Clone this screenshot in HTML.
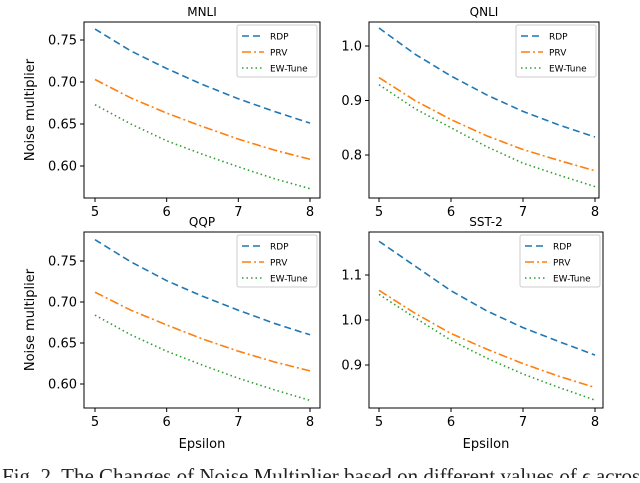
<!DOCTYPE html>
<html><head><meta charset="utf-8"><style>
body{margin:0;background:#fff;width:640px;height:478px;overflow:hidden}
svg text{font-family:"DejaVu Sans","Liberation Sans",sans-serif}
</style></head><body>
<svg id="fig" width="640" height="478" xmlns="http://www.w3.org/2000/svg">
<text x="2" y="483" style="font-family:'Liberation Serif',serif" font-size="21" fill="#222">Fig. 2.  The Changes of Noise Multiplier based on different values of ϵ across</text>
</svg>
<script>
const epsilons = [5, 5.5, 6, 6.5, 7, 7.5, 8];
const xTicks = [5, 6, 7, 8];
const mnliRDP = [0.763,0.737,0.716,0.697,0.680,0.665,0.651];
const mnliPRV = [0.703,0.681,0.663,0.647,0.632,0.619,0.608];
const mnliEW  = [0.673,0.650,0.630,0.614,0.599,0.585,0.573];
const qnliRDP = [1.033,0.985,0.945,0.91,0.88,0.855,0.833];
const qnliPRV = [0.942,0.90,0.865,0.835,0.81,0.79,0.771];
const qnliEW  = [0.929,0.885,0.85,0.815,0.785,0.763,0.742];
const qqpRDP = [0.776,0.749,0.726,0.707,0.690,0.674,0.660];
const qqpPRV = [0.712,0.690,0.672,0.655,0.640,0.627,0.616];
const qqpEW  = [0.684,0.660,0.640,0.623,0.607,0.593,0.580];
const sstRDP = [1.175,1.12,1.065,1.02,0.983,0.952,0.922];
const sstPRV = [1.066,1.015,0.97,0.935,0.903,0.875,0.85];
const sstEW  = [1.057,1.005,0.955,0.915,0.88,0.85,0.822];
const mnliTicks = ["0.60","0.65","0.70","0.75"];
const qnliTicks = ["0.8","0.9","1.0"];
const qqpTicks = ["0.60","0.65","0.70","0.75"];
const sstTicks = ["0.9","1.0","1.1"];
const legendLabels = ["RDP","PRV","EW-Tune"];

const NS="http://www.w3.org/2000/svg";
const svg=document.getElementById('fig');
function mk(tag,attrs,parent){const e=document.createElementNS(NS,tag);for(const k in attrs)e.setAttribute(k,attrs[k]);(parent||svg).appendChild(e);return e;}
const styles=[{c:'#1f77b4',d:'7,4'},{c:'#ff7f0e',d:'9,3,2,3'},{c:'#2ca02c',d:'1.5,3'}];

function panel(p){
  const g=mk('g',{});
  
  
  const xs=v=>p.x0px+(v-5)*(p.x1px-p.x0px)/3;
  const ys=v=>p.ya+(v-p.va)*(p.yb-p.ya)/(p.vb-p.va);
  const t=mk('text',{x:(p.L+p.R)/2,y:p.T-6,'text-anchor':'middle','font-size':12,fill:'#000'},g);t.textContent=p.title;
  
  xTicks.forEach(v=>{const x=xs(v);mk('line',{x1:x,x2:x,y1:p.B,y2:p.B+4,stroke:'#000'},g);
    const tx=mk('text',{x:x,y:p.B+18,'text-anchor':'middle','font-size':13},g);tx.textContent=v;
    });
  p.ticks.forEach(s=>{const y=ys(parseFloat(s));mk('line',{x1:p.L-4,x2:p.L,y1:y,y2:y,stroke:'#000'},g);
    const tx=mk('text',{x:p.L-7,y:y+4.5,'text-anchor':'end','font-size':13},g);tx.textContent=s;
    });
  p.series.forEach((arr,i)=>{
    const pl=mk('polyline',{points:arr.map((v,j)=>xs(epsilons[j])+','+ys(v)).join(' '),fill:'none',stroke:styles[i].c,'stroke-width':1.6,'stroke-dasharray':styles[i].d},g);
    
    
  });
  mk('rect',{x:p.L,y:p.T,width:p.R-p.L,height:p.B-p.T,fill:'none',stroke:'#000','stroke-width':1},g);
  const lx=p.R-83,ly=p.T+3;
  const lg=mk('g',{},g);
  
  mk('rect',{x:lx,y:ly,width:80,height:52,rx:2,fill:'#fff',stroke:'#ccc'},lg);
  legendLabels.forEach((s,i)=>{const y=ly+11+i*16;
    mk('line',{x1:lx+5,x2:lx+27,y1:y,y2:y,stroke:styles[i].c,'stroke-width':1.6,'stroke-dasharray':styles[i].d},lg);
    const tx=mk('text',{x:lx+33,y:y+3.5,'font-size':9},lg);tx.textContent=s;
    });
  if(p.ylab){const yl=mk('text',{x:34,y:(p.T+p.B)/2,'text-anchor':'middle','font-size':13,transform:`rotate(-90 34 ${(p.T+p.B)/2})`},g);yl.textContent='Noise multiplier';
    }
  if(p.xlab){const xl=mk('text',{x:(p.L+p.R)/2,y:448,'text-anchor':'middle','font-size':13},g);xl.textContent='Epsilon';
    }
}
panel({name:'mnli',title:'MNLI',L:84,R:320,T:22,B:198,x0px:95,x1px:310,va:0.75,ya:40,vb:0.60,yb:166,ticks:mnliTicks,series:[mnliRDP,mnliPRV,mnliEW],ylab:true});
panel({name:'qnli',title:'QNLI',L:369,R:599,T:22,B:198,x0px:379,x1px:595,va:1.0,ya:46,vb:0.8,yb:155,ticks:qnliTicks,series:[qnliRDP,qnliPRV,qnliEW]});
panel({name:'qqp',title:'QQP',L:84,R:320,T:232,B:408,x0px:95,x1px:310,va:0.75,ya:261,vb:0.60,yb:384,ticks:qqpTicks,series:[qqpRDP,qqpPRV,qqpEW],ylab:true,xlab:true});
panel({name:'sst2',title:'SST-2',L:369,R:603,T:232,B:408,x0px:379,x1px:595,va:1.1,ya:275,vb:0.9,yb:365,ticks:sstTicks,series:[sstRDP,sstPRV,sstEW],xlab:true});
</script>
</body></html>
